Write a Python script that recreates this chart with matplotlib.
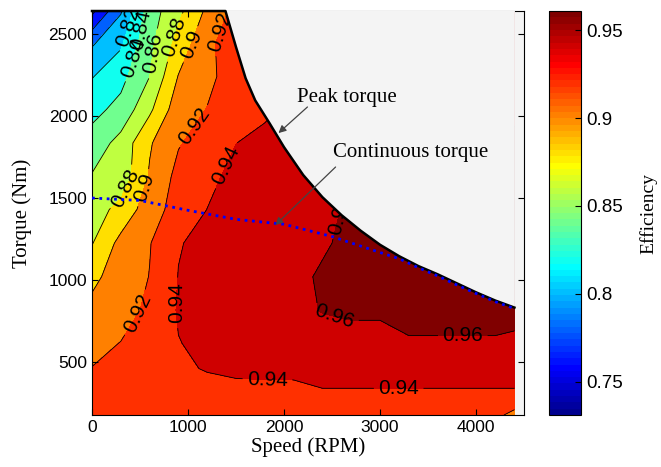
import numpy as np
import matplotlib
matplotlib.use("Agg")
import matplotlib.pyplot as plt
from matplotlib.colors import Normalize, ListedColormap
from matplotlib.cm import ScalarMappable

plt.rcParams['font.family'] = ['Liberation Sans', 'DejaVu Sans']

# grid: speed columns (RPM), torque rows (Nm)
speed = [0, 300, 600, 900, 1200, 1500, 1800, 2100, 2400, 2700, 3000, 3300, 3600, 3900, 4200, 4400]
torque = [177, 310, 460, 615, 815, 1020, 1225, 1430, 1630, 1835, 2040, 2240, 2440, 2640]

eff_177 = [0.925, 0.926, 0.927, 0.928, 0.929, 0.930, 0.931, 0.931, 0.932, 0.932, 0.932, 0.931, 0.930, 0.929, 0.925, 0.914]
eff_310 = [0.921, 0.922, 0.924, 0.926, 0.9287, 0.9325, 0.9325, 0.933, 0.9385, 0.9385, 0.9385, 0.9385, 0.9385, 0.9385, 0.9385, 0.9385]
eff_460 = [0.9205, 0.924, 0.929, 0.935, 0.942, 0.945, 0.946, 0.946, 0.946, 0.946, 0.946, 0.946, 0.946, 0.946, 0.946, 0.946]
eff_615 = [0.914, 0.9205, 0.928, 0.9395, 0.9435, 0.947, 0.950, 0.953, 0.955, 0.9577, 0.9577, 0.9597, 0.9597, 0.9597, 0.9597, 0.9597]
eff_815 = [0.9045, 0.912, 0.924, 0.9415, 0.946, 0.949, 0.953, 0.957, 0.9605, 0.961, 0.961, 0.961, 0.961, 0.961, 0.961, 0.9605]
eff_1020 = [0.896, 0.908, 0.9205, 0.9405, 0.945, 0.948, 0.952, 0.959, 0.9605, 0.961, 0.961, 0.961, 0.961, 0.961, 0.961, 0.9605]
eff_1225 = [0.879, 0.906, 0.919, 0.939, 0.9445, 0.948, 0.951, 0.954, 0.9595, 0.961, 0.961, 0.961, 0.961, 0.961, 0.961, 0.9605]
eff_1430 = [0.871, 0.886, 0.911, 0.928, 0.9402, 0.945, 0.949, 0.953, 0.958, 0.9612, 0.961, 0.9605, 0.9605, 0.9605, 0.9605, 0.9605]
eff_1630 = [0.8615, 0.868, 0.902, 0.926, 0.9355, 0.945, 0.950, 0.954, 0.957, 0.9605, 0.9605, 0.9605, 0.9605, 0.9605, 0.9605, 0.9605]
eff_1835 = [0.848, 0.867, 0.898, 0.9185, 0.929, 0.9398, 0.946, 0.951, 0.955, 0.958, 0.9605, 0.9605, 0.9605, 0.9605, 0.9605, 0.9605]
eff_2040 = [0.834, 0.846, 0.876, 0.912, 0.9205, 0.928, 0.936, 0.945, 0.952, 0.957, 0.9595, 0.9595, 0.9595, 0.9595, 0.9595, 0.9595]
eff_2240 = [0.819, 0.834, 0.860, 0.901, 0.916, 0.928, 0.938, 0.945, 0.952, 0.957, 0.9595, 0.9595, 0.9595, 0.9595, 0.9595, 0.9595]
eff_2440 = [0.798, 0.817, 0.855, 0.887, 0.916, 0.930, 0.939, 0.946, 0.953, 0.957, 0.9595, 0.9595, 0.9595, 0.9595, 0.9595, 0.9595]
eff_2640 = [0.755, 0.798, 0.850, 0.875, 0.904, 0.926, 0.939, 0.945, 0.952, 0.957, 0.9595, 0.9595, 0.9595, 0.9595, 0.9595, 0.9595]

peak_speed = [0, 1390, 1450, 1500, 1600, 1700, 1850, 2000, 2200, 2400, 2600, 2800, 3000, 3200, 3400, 3600, 3800, 4000, 4200, 4400]
peak_torque = [2640, 2640, 2520, 2420, 2230, 2095, 1955, 1810, 1640, 1505, 1395, 1300, 1215, 1145, 1085, 1035, 980, 925, 875, 832]
cont_speed = [0, 500, 1000, 1500, 2000, 2500, 3000, 3200, 3400, 3600, 3800, 4000, 4200, 4400]
cont_torque = [1500, 1485, 1425, 1370, 1340, 1265, 1168, 1130, 1075, 1025, 970, 918, 868, 826]

levels = [0.72, 0.74, 0.76, 0.78, 0.80, 0.82, 0.84, 0.86, 0.88, 0.90, 0.92, 0.94, 0.96, 0.98]
line_levels = [0.76, 0.78, 0.80, 0.82, 0.84, 0.86, 0.88, 0.90, 0.92, 0.94, 0.96]
vmin, vmax = 0.731, 0.961

eff = np.array([eff_177, eff_310, eff_460, eff_615, eff_815, eff_1020, eff_1225,
                eff_1430, eff_1630, eff_1835, eff_2040, eff_2240, eff_2440, eff_2640])

# MATLAB-style 64 step jet
x = np.arange(1, 65) / 64
jet64 = np.clip(np.stack([1.5 - np.abs(4 * x - 3),
                          1.5 - np.abs(4 * x - 2),
                          1.5 - np.abs(4 * x - 1)], axis=1), 0, 1)
cmap = ListedColormap(jet64)
norm = Normalize(vmin=vmin, vmax=vmax)
# each band takes the colour of its lower level (MATLAB style)
band_colors = [cmap(norm(min(max(lv, vmin), vmax - 1e-6))) for lv in levels[:-1]]

bg = '#f4f4f4'
fig = plt.figure(figsize=(6.61, 4.67), dpi=100)
ax = fig.add_axes([0.1392, 0.1113, 0.6536, 0.8651])
ax.set_facecolor(bg)

ax.contourf(speed, torque, eff, levels=levels, colors=band_colors, zorder=1)
cs = ax.contour(speed, torque, eff, levels=line_levels, colors='k', linewidths=0.6, zorder=2)

label_pos = [(1388, 1701), (971, 1976), (376, 1549), (605, 1549), (501, 787),
             (898, 860), (1827, 402), (3194, 341), (2516, 756), (3862, 634),
             (2560, 1400), (313, 2555), (500, 2524), (449, 2354), (605, 2384),
             (939, 2463), (1044, 2433), (1336, 2512)]
ax.clabel(cs, manual=label_pos, inline=True, fmt='%g', fontsize=15)

# area above peak torque is outside the operating envelope
ax.fill_between(peak_speed, peak_torque, 3000, color=bg, lw=0, zorder=4)
ax.plot(peak_speed, peak_torque, color='k', lw=1.8, zorder=5, clip_on=False)
ax.plot(cont_speed, cont_torque, color='blue', lw=2, ls=':', zorder=5)

serif = 'Liberation Serif'
ax.text(2140, 2085, 'Peak torque', fontfamily=serif, fontsize=15, zorder=6)
ax.text(2505, 1750, 'Continuous torque', fontfamily=serif, fontsize=15, zorder=6)
arrow = dict(arrowstyle='-|>', color='#444444', lw=0.9, shrinkA=0, shrinkB=0, mutation_scale=11)
ax.annotate('', xy=(1942, 1896), xytext=(2244, 2055), arrowprops=arrow, zorder=6)
ax.annotate('', xy=(1910, 1335), xytext=(2537, 1689), arrowprops=arrow, zorder=6)

ax.set_xlim(0, 4500)
ax.set_ylim(177, 2640)
ax.set_xticks([0, 1000, 2000, 3000, 4000])
ax.set_yticks([500, 1000, 1500, 2000, 2500])
ax.tick_params(direction='in', top=True, right=True, labelsize=12.5, length=4)
ax.set_xlabel('Speed (RPM)', fontfamily=serif, fontsize=15, labelpad=2)
ax.set_ylabel('Torque (Nm)', fontfamily=serif, fontsize=15, labelpad=12)

cax = fig.add_axes([0.8306, 0.1113, 0.0484, 0.8651])
cb = fig.colorbar(ScalarMappable(norm=norm, cmap=cmap), cax=cax)
cb.set_ticks([0.75, 0.8, 0.85, 0.9, 0.95])
cb.set_ticklabels(['0.75', '0.8', '0.85', '0.9', '0.95'])
cax.tick_params(direction='in', labelsize=13.5, length=4)
cb.set_label('Efficiency', fontfamily=serif, fontsize=14, labelpad=12)

fig.savefig('out.png', dpi=100)
